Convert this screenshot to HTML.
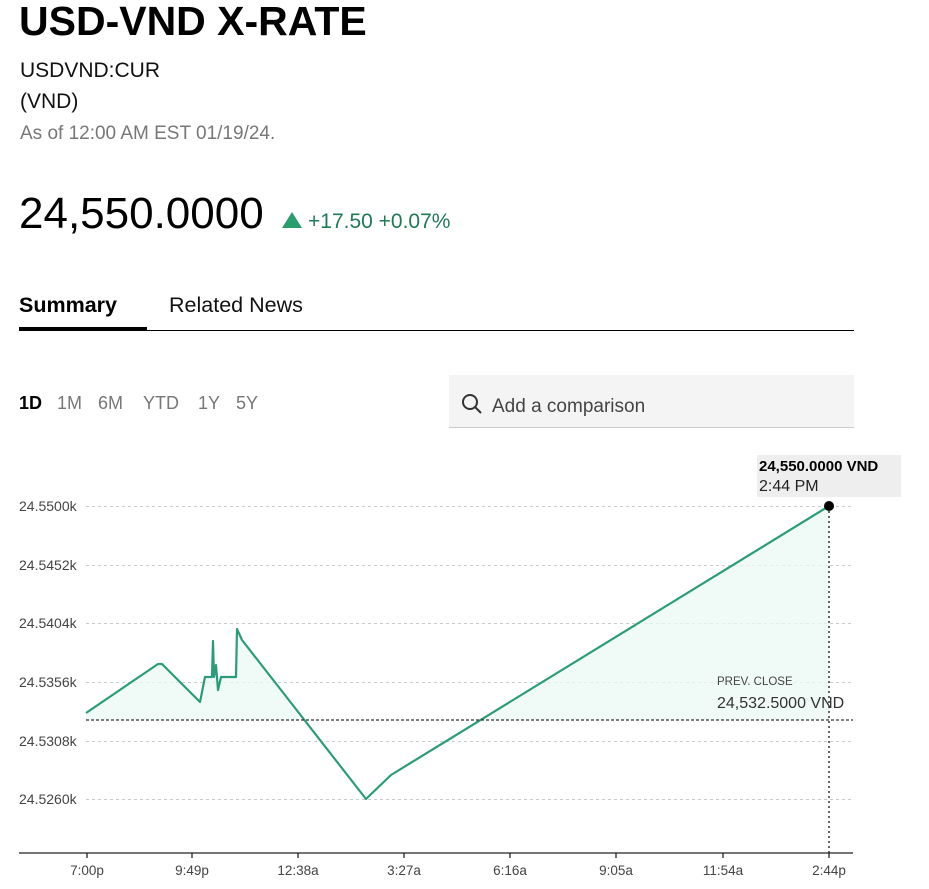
<!DOCTYPE html>
<html><head><meta charset="utf-8"><style>
body{margin:0;background:#fff;width:929px;height:889px;overflow:hidden;font-family:"Liberation Sans",sans-serif}
svg{display:block}
</style></head><body>
<svg width="929" height="889" xmlns="http://www.w3.org/2000/svg" font-family="Liberation Sans, sans-serif">
<text x="19" y="35" font-size="41" font-weight="bold" fill="#000">USD-VND X-RATE</text>
<text x="20" y="77" font-size="21" fill="#111">USDVND:CUR</text>
<text x="20" y="108" font-size="21" fill="#111">(VND)</text>
<text x="20" y="139" font-size="19" fill="#777">As of 12:00 AM EST 01/19/24.</text>
<text x="19" y="228" font-size="44" fill="#000">24,550.0000</text>
<polygon points="282,228 292,212 302,228" fill="#2a9d6f"/>
<text x="308" y="228" font-size="21" fill="#1f7a55">+17.50 +0.07%</text>
<text x="19" y="312" font-size="21.5" font-weight="bold" fill="#000">Summary</text>
<text x="169" y="312" font-size="21.5" fill="#111">Related News</text>
<rect x="19" y="327" width="128" height="4" fill="#000"/>
<rect x="147" y="330" width="707" height="1" fill="#000"/>
<text x="19" y="409" font-size="18" font-weight="bold" fill="#000">1D</text>
<text x="57" y="409" font-size="18" fill="#777">1M</text>
<text x="98" y="409" font-size="18" fill="#777">6M</text>
<text x="143" y="409" font-size="18" fill="#777">YTD</text>
<text x="198" y="409" font-size="18" fill="#777">1Y</text>
<text x="236" y="409" font-size="18" fill="#777">5Y</text>
<rect x="449" y="375" width="405" height="53" fill="#f4f4f4"/>
<rect x="449" y="427" width="405" height="1" fill="#ccc"/>
<circle cx="470" cy="402" r="7" fill="none" stroke="#333" stroke-width="2"/>
<line x1="475" y1="407" x2="481" y2="413" stroke="#333" stroke-width="2"/>
<text x="492" y="412" font-size="19" fill="#444">Add a comparison</text>
<g stroke="#ccc" stroke-dasharray="3,3" stroke-width="1">
<line x1="86" y1="506.5" x2="851" y2="506.5"/><line x1="86" y1="565.5" x2="851" y2="565.5"/>
<line x1="86" y1="623.5" x2="851" y2="623.5"/><line x1="86" y1="682.5" x2="851" y2="682.5"/>
<line x1="86" y1="741.5" x2="851" y2="741.5"/><line x1="86" y1="799.5" x2="851" y2="799.5"/>
</g>
<g font-size="14" fill="#444">
<text x="19" y="511">24.5500k</text><text x="19" y="570">24.5452k</text>
<text x="19" y="628">24.5404k</text><text x="19" y="687">24.5356k</text>
<text x="19" y="746">24.5308k</text><text x="19" y="804">24.5260k</text>
</g>
<polygon points="86,713 158,664 162,664 200,702 205,677 212,677 213,641 214,677 216,665 218,690 221,677 236,677 237,629 242,640 301,720 484,720 829,506 829,720 86,720" fill="#eaf8f2" opacity="0.7"/>
<polyline points="86,713 158,664 162,664 200,702 205,677 212,677 213,641 214,677 216,665 218,690 221,677 236,677 237,629 242,640 366,799 391,775 829,506" fill="none" stroke="#2a9d78" stroke-width="2.2" stroke-linejoin="round"/>
<line x1="86" y1="720" x2="853" y2="720" stroke="#333" stroke-dasharray="3,2" stroke-width="1.2"/>
<line x1="829" y1="506" x2="829" y2="853" stroke="#333" stroke-dasharray="2,3" stroke-width="1.5"/>
<text x="717" y="685" font-size="11.5" fill="#444">PREV. CLOSE</text>
<text x="717" y="708" font-size="16" fill="#333">24,532.5000 VND</text>
<rect x="757" y="455" width="144" height="42" fill="#eee"/>
<text x="759" y="471" font-size="15" font-weight="bold" fill="#000">24,550.0000 VND</text>
<text x="759" y="491" font-size="16" fill="#222">2:44 PM</text>
<circle cx="829" cy="506" r="5" fill="#000"/>
<line x1="19" y1="853" x2="853" y2="853" stroke="#222" stroke-width="1.3"/>
<g stroke="#222" stroke-width="1.3">
<line x1="87" y1="853" x2="87" y2="858"/><line x1="192" y1="853" x2="192" y2="858"/>
<line x1="298" y1="853" x2="298" y2="858"/><line x1="404" y1="853" x2="404" y2="858"/>
<line x1="510" y1="853" x2="510" y2="858"/><line x1="616" y1="853" x2="616" y2="858"/>
<line x1="723" y1="853" x2="723" y2="858"/><line x1="829" y1="853" x2="829" y2="858"/>
</g>
<g font-size="13.5" fill="#444" text-anchor="middle">
<text x="87" y="875">7:00p</text><text x="192" y="875">9:49p</text><text x="298" y="875">12:38a</text>
<text x="404" y="875">3:27a</text><text x="510" y="875">6:16a</text><text x="616" y="875">9:05a</text>
<text x="723" y="875">11:54a</text><text x="829" y="875">2:44p</text>
</g>
</svg>
</body></html>
